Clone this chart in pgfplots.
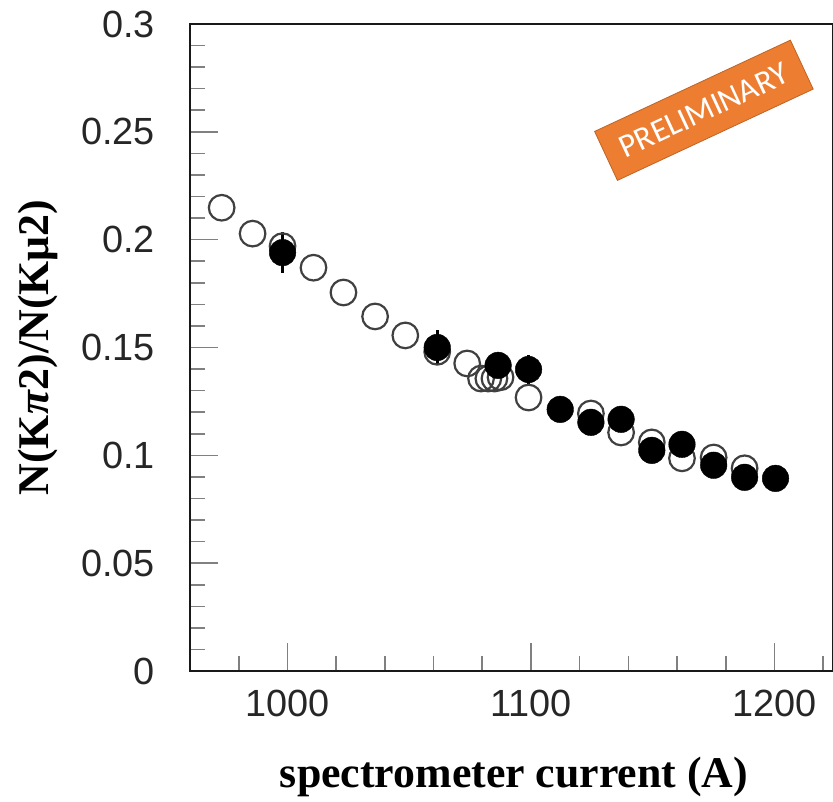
\documentclass[border=0pt]{standalone}
\usepackage{fontspec}
\setmainfont{Liberation Sans}
\newfontfamily\serifb{Liberation Serif}
\newfontfamily\carlito{Carlito}
\usepackage{pgfplots}
\pgfplotsset{compat=1.18}
\definecolor{prelimorange}{HTML}{ED7D31}
\begin{document}
\begin{tikzpicture}
\begin{axis}[
  name=ax,
  scale only axis, width=643bp, height=647bp,
  xmin=960, xmax=1224, ymin=0, ymax=0.3,
  xtick={1000,1100,1200},
  minor xtick={980,1020,1040,1060,1080,1120,1140,1160,1180,1220},
  ytick={0,0.05,0.1,0.15,0.2,0.25,0.3},
  yticklabels={0,0.05,0.1,0.15,0.2,0.25,0.3},
  minor ytick={0.01,0.02,0.03,0.04,0.06,0.07,0.08,0.09,0.11,0.12,0.13,0.14,0.16,0.17,0.18,0.19,0.21,0.22,0.23,0.24,0.26,0.27,0.28,0.29},
  tick align=inside, xtick pos=bottom, ytick pos=left,
  major tick length=28bp, minor tick length=15bp,
  tick style={line width=1.6bp, color=black!50},
  axis line style={line width=2.6bp, black!90},
  /pgf/number format/assume math mode=true,
  /pgf/number format/set thousands separator={},
  tick label style={font=\fontsize{38}{40}\selectfont, text=black!85},
  xticklabel style={inner sep=0pt, anchor=north, yshift=-19bp},
  yticklabel style={inner sep=0pt, anchor=east, xshift=-35bp},
  xlabel={\serifb\bfseries spectrometer current (A)},
  xlabel style={at={(axis description cs:0.504,-0.1793)}, anchor=base, font=\fontsize{44}{48}\selectfont},
  ylabel={\serifb\bfseries N(K\textit{π}2)/N(Kμ2)},
  ylabel style={at={(axis description cs:-0.2364,0.5)}, anchor=center, rotate=0, font=\fontsize{44}{48}\selectfont},
  clip=false,
]
% open circles
\addplot[only marks, mark=o, mark size=12.8bp, mark options={line width=2.2bp, draw=black!75}]
coordinates {
(973,0.2148) (985.7,0.2028) (998,0.197) (1010.7,0.187) (1023,0.1755)
(1036,0.1644) (1048.4,0.1556) (1061.5,0.148) (1073.8,0.1426)
(1079.5,0.1356) (1082.5,0.1356) (1085,0.1356) (1087.5,0.1362)
(1099,0.1268) (1124.6,0.1194) (1137,0.1106) (1149.6,0.106)
(1162,0.0986) (1175,0.099) (1187.7,0.094)
};
% filled circles with error bars
\addplot[only marks, mark=*, mark size=13.3bp, mark options={fill=black, draw=black, line width=0.4bp},
  error bars/.cd, y dir=both, y explicit, error mark=none,
  error bar style={line width=2.6bp, black}]
table[x=x, y=y, y error=e] {
x y e
998 0.194 0.0095
1061.5 0.150 0.008
1086.5 0.1417 0.006
1099 0.1398 0.0065
1112 0.1213 0.003
1124.6 0.1153 0.003
1137 0.1167 0.003
1149.6 0.1023 0.003
1162 0.1051 0.003
1175 0.0954 0.003
1187.7 0.0898 0.003
1200.4 0.0893 0.003
};
\node[fill=prelimorange, draw=prelimorange!80!black, line width=0.8bp, rotate=25,
  minimum width=216bp, minimum height=54bp, inner sep=0pt, text=white,
  font=\carlito\fontsize{33}{35}\selectfont] at (axis cs:1171,0.26) {PRELIMINARY};
\end{axis}
\pgfresetboundingbox
\path[use as bounding box] ([xshift=-190bp,yshift=-131bp]ax.south west) rectangle ([yshift=24bp]ax.north east);
\end{tikzpicture}
\end{document}
